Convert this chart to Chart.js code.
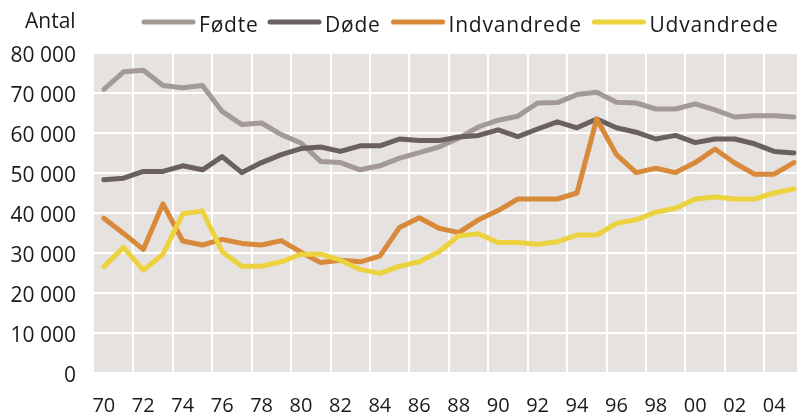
<!DOCTYPE html>
<html>
<head>
<meta charset="utf-8">
<script src="https://cdn.jsdelivr.net/npm/chart.js@4.4.1/dist/chart.umd.min.js"></script>
<style>
  html, body { margin: 0; padding: 0; background: #fff; }
  #wrap { width: 797px; height: 412px; }
</style>
</head>
<body>
<div id="wrap"><canvas id="graf" width="797" height="412"></canvas></div>
<script>
// år (x-akse)
const aar = [1970, 1971, 1972, 1973, 1974, 1975, 1976, 1977, 1978, 1979,
             1980, 1981, 1982, 1983, 1984, 1985, 1986, 1987, 1988, 1989,
             1990, 1991, 1992, 1993, 1994, 1995, 1996, 1997, 1998, 1999,
             2000, 2001, 2002, 2003, 2004, 2005]

const fodte = [70900, 75300, 75700, 71900, 71300, 71900, 65400, 62100, 62500, 59600,
               57500, 52900, 52600, 50800, 51800, 53700, 55100, 56500, 58700, 61500,
               63200, 64200, 67500, 67600, 69600, 70200, 67700, 67500, 66000, 66000,
               67300, 65800, 64000, 64300, 64300, 64000]

const dode = [48300, 48700, 50400, 50400, 51800, 50800, 54100, 50100, 52600, 54600,
              56100, 56500, 55400, 56800, 56800, 58500, 58100, 58100, 59000, 59400,
              60800, 59100, 61000, 62800, 61300, 63500, 61300, 60200, 58500, 59400,
              57600, 58500, 58500, 57300, 55400, 55000]

const indvandrede = [38700, 34900, 30900, 42300, 33000, 32000, 33400, 32400, 32000, 33100,
                     30200, 27600, 28200, 27800, 29200, 36400, 38800, 36200, 35100, 38300,
                     40600, 43500, 43500, 43500, 45000, 63500, 54600, 50100, 51200, 50100,
                     52600, 56000, 52500, 49700, 49700, 52600]

const udvandrede = [26600, 31400, 25700, 29700, 39800, 40500, 30300, 26700, 26700, 27800,
                    29700, 29700, 28200, 25900, 24900, 26700, 27800, 30300, 34300, 34800,
                    32600, 32600, 32200, 32800, 34500, 34500, 37400, 38300, 40200, 41200,
                    43500, 44000, 43500, 43500, 45000, 46000]

const navne = ["Fødte", "Døde", "Indvandrede", "Udvandrede"]
const farver = ["#a39a96", "#6a605f", "#d8893a", "#ecd23f"]

// tick-positioner
const xLabelTicks = [1970, 1972, 1974, 1976, 1978, 1980, 1982, 1984, 1986,
                     1988, 1990, 1992, 1994, 1996, 1998, 2000, 2002, 2004]
const xGridTicks = [1971.5, 1973.5, 1975.5, 1977.5, 1979.5, 1981.5, 1983.5, 1985.5,
                    1987.5, 1989.5, 1991.5, 1993.5, 1995.5, 1997.5, 1999.5, 2001.5, 2003.5]

const FONT = '"Open Sans", "Noto Sans", sans-serif'
const tekstFarve = "#1a1a1a"

// legendens startpunkter (x) for hver serie
const legendeX = [141.5, 267.5, 391, 592]

function punkter(vaerdier) {
    return aar.map((a, i) => ({ x: a, y: vaerdier[i] }))
}

// grå baggrund bag plotområdet
const baggrund = {
    id: "baggrund",
    beforeDraw(chart) {
        const { ctx, chartArea: a } = chart
        ctx.save()
        ctx.fillStyle = "#e6e2df"
        ctx.fillRect(a.left, a.top, a.right - a.left, a.bottom - a.top)
        ctx.restore()
    }
}

// "Antal" og legende øverst
const topTekst = {
    id: "topTekst",
    afterDraw(chart) {
        const ctx = chart.ctx
        ctx.save()
        ctx.font = "21px " + FONT
        ctx.fillStyle = tekstFarve
        ctx.textBaseline = "alphabetic"
        ctx.fillText("Antal", 25, 28)

        ctx.letterSpacing = "0.8px"
        chart.data.datasets.forEach((ds, i) => {
            const x = legendeX[i]
            ctx.strokeStyle = ds.borderColor
            ctx.lineWidth = 5
            ctx.lineCap = "round"
            ctx.beginPath()
            ctx.moveTo(x + 2.5, 22)
            ctx.lineTo(x + 51.5, 22)
            ctx.stroke()
            ctx.fillText(ds.label, x + 57.5, 32)
        })
        ctx.restore()
    }
}

const datasets = [fodte, dode, indvandrede, udvandrede].map((v, i) => ({
    label: navne[i],
    data: punkter(v),
    borderColor: farver[i],
    backgroundColor: farver[i],
    borderWidth: 5,
    borderCapStyle: "round",
    borderJoinStyle: "round",
    pointRadius: 0,
    tension: 0,
    order: 4 - i
}))

new Chart(document.getElementById("graf"), {
    type: "line",
    data: { datasets: datasets },
    plugins: [baggrund, topTekst],
    options: {
        responsive: false,
        animation: false,
        devicePixelRatio: 1,
        layout: { padding: { top: 53, right: 0, left: 0, bottom: 0 } },
        plugins: {
            legend: { display: false },
            tooltip: { enabled: false }
        },
        scales: {
            x: {
                type: "linear",
                min: 1969.5,
                max: 2005.16,
                afterBuildTicks: (axis) => {
                    axis.ticks = xLabelTicks.concat(xGridTicks)
                        .sort((a, b) => a - b)
                        .map(v => ({ value: v }))
                },
                afterFit: (axis) => {
                    axis.height = 39
                    axis.paddingLeft = 0
                    axis.paddingRight = 0
                },
                border: { display: false },
                grid: {
                    drawTicks: false,
                    lineWidth: 2,
                    color: (c) => (c.tick && c.tick.value % 1 !== 0) ? "#ffffff" : "rgba(0,0,0,0)"
                },
                ticks: {
                    autoSkip: false,
                    maxRotation: 0,
                    padding: 21,
                    color: tekstFarve,
                    font: { family: FONT, size: 20 },
                    callback: (v) => (v % 2 === 0) ? String(v).slice(2) : ""
                }
            },
            y: {
                min: 0,
                max: 80000,
                afterFit: (axis) => { axis.width = 94 },
                border: { display: false },
                grid: {
                    drawTicks: false,
                    lineWidth: 2,
                    color: "#ffffff"
                },
                ticks: {
                    stepSize: 10000,
                    padding: 18,
                    labelOffset: 3,
                    color: tekstFarve,
                    font: { family: FONT, size: 21 },
                    callback: (v) => String(v).replace(/\B(?=(\d{3})+(?!\d))/g, " ")
                }
            }
        }
    }
})
</script>
</body>
</html>
